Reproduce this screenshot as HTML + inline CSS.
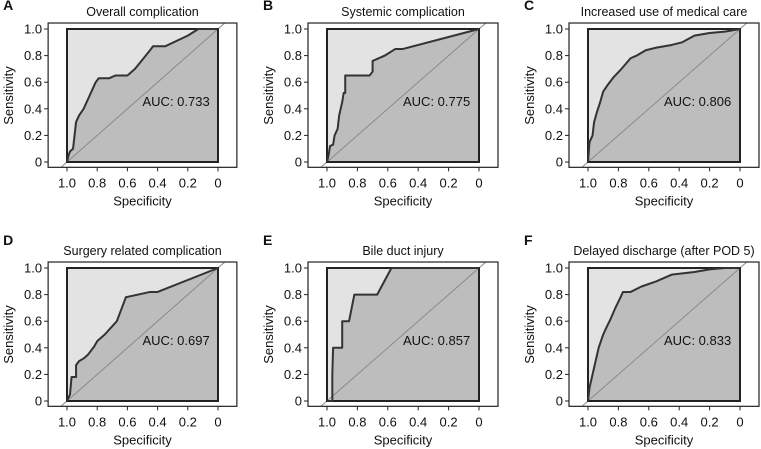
<!DOCTYPE html>
<html><head><meta charset="utf-8"><style>
body{margin:0;background:#fff;}
svg{display:block;font-family:"Liberation Sans",Arial,sans-serif;}
</style></head><body>
<svg id="c" width="761" height="449" viewBox="0 0 761 449"></svg>
<script>
const titles=["Overall complication","Systemic complication","Increased use of medical care","Surgery related complication","Bile duct injury","Delayed discharge (after POD 5)"];
const letters=["A","B","C","D","E","F"];
const aucs=["0.733","0.775","0.806","0.697","0.857","0.833"];
const ticks=[1.0,0.8,0.6,0.4,0.2,0];
const tickLabels=["1.0","0.8","0.6","0.4","0.2","0"];
const specA=[1,0.99,0.98,0.96,0.95,0.94,0.92,0.89,0.87,0.85,0.83,0.81,0.79,0.72,0.68,0.6,0.58,0.55,0.5,0.45,0.43,0.35,0.2,0.13,0];
const sensA=[0,0.05,0.08,0.1,0.2,0.3,0.35,0.4,0.45,0.5,0.55,0.6,0.63,0.63,0.65,0.65,0.67,0.7,0.77,0.84,0.87,0.87,0.95,1,1];
const specB=[1,0.99,0.98,0.96,0.95,0.93,0.92,0.9,0.89,0.88,0.88,0.72,0.7,0.7,0.62,0.55,0.5,0];
const sensB=[0,0.05,0.12,0.13,0.2,0.25,0.35,0.45,0.52,0.52,0.65,0.65,0.68,0.76,0.8,0.85,0.85,1];
const specC=[1,0.99,0.97,0.96,0.94,0.92,0.9,0.87,0.83,0.78,0.72,0.68,0.62,0.55,0.45,0.38,0.3,0.2,0.1,0];
const sensC=[0,0.15,0.2,0.3,0.38,0.45,0.53,0.58,0.64,0.7,0.78,0.8,0.84,0.86,0.88,0.9,0.95,0.97,0.98,1];
const specD=[1,0.98,0.97,0.94,0.94,0.92,0.89,0.86,0.82,0.8,0.75,0.67,0.61,0.45,0.4,0];
const sensD=[0,0.05,0.18,0.18,0.27,0.3,0.32,0.35,0.41,0.45,0.5,0.6,0.78,0.82,0.82,1];
const specE=[1,0.965,0.965,0.96,0.9,0.9,0.855,0.82,0.67,0.576,0];
const sensE=[0,0,0.2,0.4,0.4,0.6,0.6,0.8,0.8,1,1];
const specF=[1,0.99,0.97,0.95,0.93,0.9,0.88,0.85,0.82,0.79,0.77,0.72,0.65,0.55,0.45,0.3,0.2,0.1,0];
const sensF=[0,0.1,0.2,0.3,0.4,0.5,0.55,0.62,0.7,0.77,0.82,0.82,0.86,0.9,0.95,0.97,0.99,1,1];
const specs=[specA,specB,specC,specD,specE,specF];
const senss=[sensA,sensB,sensC,sensD,sensE,sensF];
const panelNames=["a","b","c","d","e","f"];

const px=[[67,218],[327,479],[588,740]];
const py=[[29,162],[268,401]];
const NS="http://www.w3.org/2000/svg";
const svg=document.getElementById('c');
function mk(t,a,p){const e=document.createElementNS(NS,t);for(const k in a)e.setAttribute(k,a[k]);(p||svg).appendChild(e);return e;}
for(let i=0;i<6;i++){
  const col=i%3,row=Math.floor(i/3);
  const x1=px[col][0],x0=px[col][1],y1=py[row][0],y0=py[row][1];
  const X=s=>x0+(x1-x0)*s, Y=v=>y0-(y0-y1)*v;
  const g=mk('g',{});
  
  
  const bl=X(1.125),br=X(-0.125),bt=Y(1.045),bb=Y(-0.04);
  const cp=mk('clipPath',{id:'cp'+i},g);mk('rect',{x:bl,y:bt,width:br-bl,height:bb-bt},cp);
  const inner=mk('rect',{x:x1,y:y1,width:x0-x1,height:y0-y1,fill:'#e3e3e3'},g);
  
  
  const sp=specs[i],se=senss[i];
  let d='M'+X(sp[0])+','+Y(se[0]);
  for(let k=1;k<sp.length;k++)d+=' L'+X(sp[k])+','+Y(se[k]);
  const area=mk('path',{d:d+' L'+X(0)+','+Y(0)+' Z',fill:'#bdbdbd'},g);
  
  
  const diag=mk('line',{x1:X(1.2),y1:Y(-0.2),x2:X(-0.2),y2:Y(1.2),stroke:'#8a8a8a','stroke-width':1,'clip-path':'url(#cp'+i+')'},g);
  
  
  mk('rect',{x:x1,y:y1,width:x0-x1,height:y0-y1,fill:'none',stroke:'#222','stroke-width':2},g);
  const curve=mk('path',{d:d,fill:'none',stroke:'#333','stroke-width':2,'stroke-linejoin':'round'},g);
  
  
  const box=mk('rect',{x:bl,y:bt,width:br-bl,height:bb-bt,fill:'none',stroke:'#222','stroke-width':1.2},g);
  
  
  for(let k=0;k<ticks.length;k++){
    const yy=Y(ticks[k]);
    mk('line',{x1:bl-4,y1:yy,x2:bl,y2:yy,stroke:'#222'},g);
    const t=mk('text',{x:bl-6,y:yy+4.5,'text-anchor':'end','font-size':13,fill:'#111'},g);
    t.textContent=tickLabels[k];
    
    
    const xx=X(ticks[k]);
    mk('line',{x1:xx,y1:bb,x2:xx,y2:bb+4,stroke:'#222'},g);
    const t2=mk('text',{x:xx,y:bb+20,'text-anchor':'middle','font-size':13,fill:'#111'},g);
    t2.textContent=tickLabels[k];
    
    
  }
  const xt=mk('text',{x:(x0+x1)/2,y:bb+38,'text-anchor':'middle','font-size':13,fill:'#111'},g);
  xt.textContent='Specificity';
  
  
  const ycx=bl-35,ycy=(y0+y1)/2;
  const yt=mk('text',{x:ycx,y:ycy,'text-anchor':'middle','font-size':13,fill:'#111',transform:'rotate(-90 '+ycx+' '+ycy+')'},g);
  yt.textContent='Sensitivity';
  
  
  const tt=mk('text',{x:(x0+x1)/2,y:y1-13,'text-anchor':'middle','font-size':12.5,fill:'#111'},g);
  tt.textContent=titles[i];
  
  
  const lt=mk('text',{x:bl-45,y:row?y1-23:y1-19,'font-size':14,'font-weight':'bold',fill:'#111'},g);
  lt.textContent=letters[i];
  
  
  const at=mk('text',{x:X(0.5),y:Y(0.42),'font-size':13,fill:'#111'},g);
  at.textContent='AUC: '+aucs[i];
  
  
}
</script>
</body></html>
